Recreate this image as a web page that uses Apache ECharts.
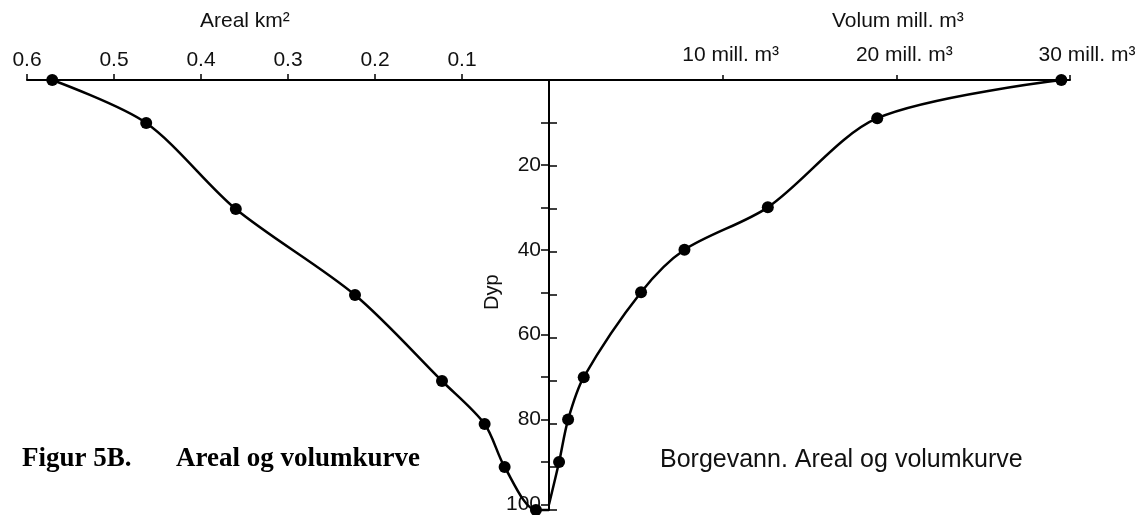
<!DOCTYPE html>
<html><head><meta charset="utf-8">
<script src="https://cdn.jsdelivr.net/npm/echarts@6/dist/echarts.min.js"></script>
<style>html,body{margin:0;padding:0;background:#fff}#c{width:1141px;height:515px}</style>
</head><body><div id="c"></div>
<script>
// Data
const depthAreal = [0, 10, 30, 50, 70, 80, 90, 100, 100];
const arealKm2   = [0.571, 0.463, 0.36, 0.223, 0.123, 0.074, 0.051, 0.015, 0];
const depthVolum = [0, 9, 30, 40, 50, 70, 80, 90, 100];
const volumMill  = [29.5, 18.9, 12.6, 7.8, 5.3, 2.0, 1.1, 0.58, 0];
const arealTicks = [0.1, 0.2, 0.3, 0.4, 0.5, 0.6];
const volumTicks = [10, 20, 30];
const depthTicks = [10, 20, 30, 40, 50, 60, 70, 80, 90, 100];
const depthLabels = [20, 40, 60, 80, 100];

const SANS = '"Liberation Sans", Arial, Helvetica, sans-serif';
const SERIF = '"Liberation Serif", "Times New Roman", serif';

function pts(xs, ys) {
  return xs.map((v, i) => (v === 0) ? { value: [v, ys[i]], symbol: 'none' } : { value: [v, ys[i]] });
}

const chart = echarts.init(document.getElementById('c'), null, { renderer: 'canvas' });
const axisLine = { show: true, onZero: false, lineStyle: { color: '#000', width: 2 } };
chart.setOption({
  animation: false,
  backgroundColor: '#fff',
  grid: [
    { left: 27, top: 80, width: 522, height: 430 },
    { left: 549, top: 80, width: 521, height: 430 }
  ],
  xAxis: [
    {
      gridIndex: 0, type: 'value', position: 'top', inverse: true, min: 0, max: 0.6,
      axisLine: axisLine,
      axisTick: { show: true, length: 6, lineStyle: { color: '#000', width: 1.5 }, customValues: arealTicks },
      axisLabel: { customValues: arealTicks, formatter: v => v.toFixed(1), fontSize: 21, color: '#111', margin: 9, fontFamily: SANS },
      splitLine: { show: false }
    },
    {
      gridIndex: 1, type: 'value', position: 'top', min: 0, max: 30,
      axisLine: axisLine,
      axisTick: { show: true, length: 5, lineStyle: { color: '#000', width: 1.5 }, customValues: volumTicks },
      axisLabel: {
        customValues: volumTicks, margin: 14, color: '#111', fontSize: 21, fontFamily: SANS,
        formatter: v => (v === 30 ? '{b|' : '{a|') + v + ' mill. m³}',
        rich: {
          a: { fontSize: 21, fontFamily: SANS, color: '#111', padding: [0, 0, 0, 16] },
          b: { fontSize: 21, fontFamily: SANS, color: '#111', padding: [0, 0, 0, 34] }
        }
      },
      splitLine: { show: false }
    }
  ],
  yAxis: [
    {
      gridIndex: 0, type: 'value', position: 'right', inverse: true, min: 0, max: 100,
      axisLine: axisLine,
      axisTick: { show: true, length: 8, lineStyle: { color: '#000', width: 1.5 }, customValues: depthTicks },
      axisLabel: { show: false },
      splitLine: { show: false }
    },
    {
      gridIndex: 1, type: 'value', position: 'left', inverse: true, min: 0, max: 100,
      axisLine: axisLine,
      axisTick: { show: true, length: 8, lineStyle: { color: '#000', width: 1.5 }, customValues: depthTicks },
      axisLabel: { customValues: depthLabels, fontSize: 21, color: '#111', margin: 8, fontFamily: SANS },
      splitLine: { show: false },
      name: 'Dyp', nameLocation: 'middle', nameRotate: 90, nameGap: 40,
      nameTextStyle: { fontSize: 20, color: '#111', fontFamily: SANS }
    }
  ],
  series: [
    {
      type: 'line', xAxisIndex: 0, yAxisIndex: 0, clip: false,
      data: pts(arealKm2, depthAreal),
      smooth: 0.3, symbol: 'circle', symbolSize: 12,
      itemStyle: { color: '#000' }, lineStyle: { color: '#000', width: 2.5 }
    },
    {
      type: 'line', xAxisIndex: 1, yAxisIndex: 1, clip: false,
      data: pts(volumMill, depthVolum),
      smooth: 0.3, symbol: 'circle', symbolSize: 12,
      itemStyle: { color: '#000' }, lineStyle: { color: '#000', width: 2.5 }
    }
  ],
  graphic: [
    { type: 'text', left: 200, top: 11, style: { text: 'Areal km²', font: '21px ' + SANS, fill: '#111' } },
    { type: 'text', left: 832, top: 11, style: { text: 'Volum mill. m³', font: '21px ' + SANS, fill: '#111' } },
    { type: 'text', left: 22, top: 446, style: { text: 'Figur 5B.', font: 'bold 27px ' + SERIF, fill: '#000' } },
    { type: 'text', left: 176, top: 446, style: { text: 'Areal og volumkurve', font: 'bold 27px ' + SERIF, fill: '#000' } },
    { type: 'text', left: 660, top: 448, style: { text: 'Borgevann. Areal og volumkurve', font: '25px ' + SANS, fill: '#111' } }
  ]
});
</script>
</body></html>
